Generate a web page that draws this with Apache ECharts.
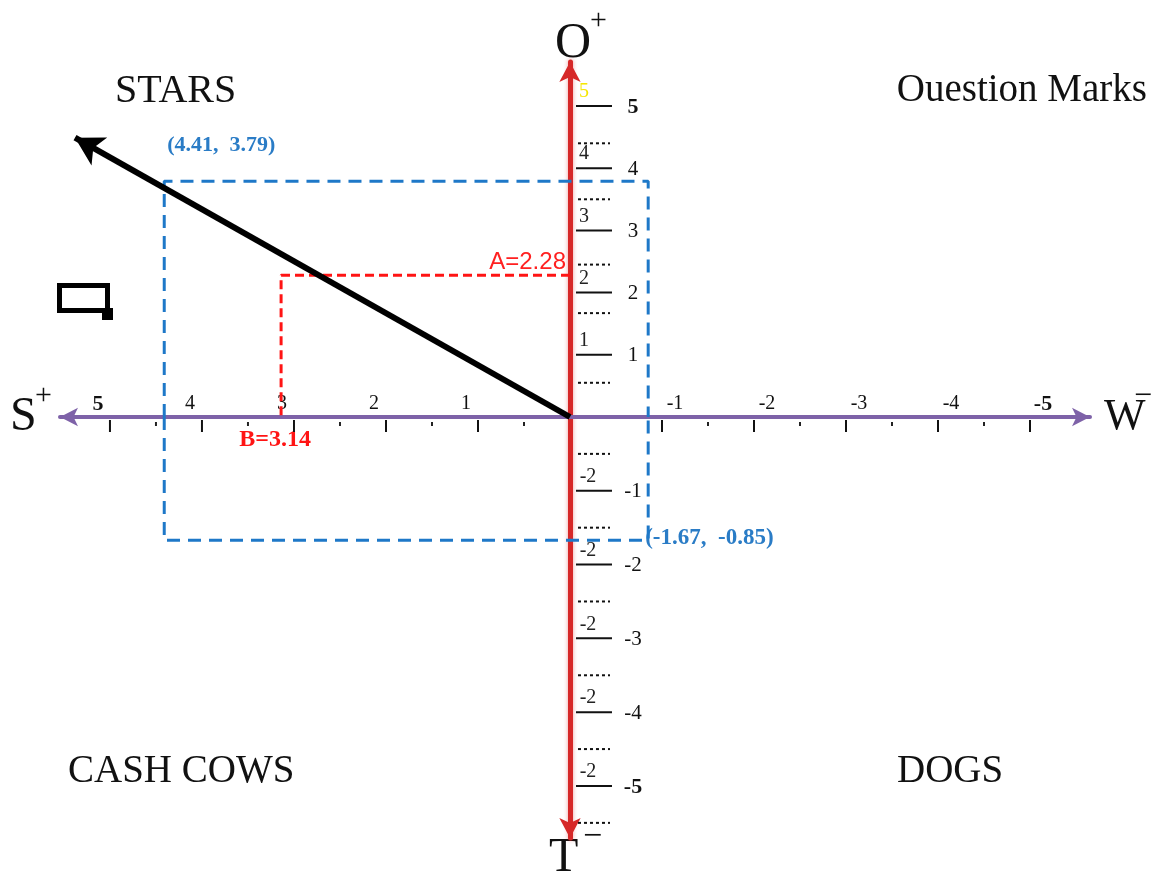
<!DOCTYPE html>
<html><head><meta charset="utf-8">
<script src="https://cdn.jsdelivr.net/npm/echarts@6/dist/echarts.min.js"></script>
<style>html,body{margin:0;padding:0;background:#fff}#c{width:1165px;height:877px}</style>
</head><body><div id="c"></div>
<script>
// ---- data ----
const xTicks = [5, 4, 3, 2, 1, -1, -2, -3, -4, -5];
const xMinorTicks = [4.5, 3.5, 2.5, 1.5, 0.5, -1.5, -2.5, -3.5, -4.5];
const xTickLabels = ['5', '4', '3', '2', '1', '-1', '-2', '-3', '-4', '-5'];
const yTicksUpper = [1, 2, 3, 4, 5];
const yTicksLower = [-1, -2, -3, -4, -5];
const yDotsUpper = [0.55, 1.67, 2.45, 3.5, 4.4];
const yDotsLower = [-0.5, -1.5, -2.5, -3.5, -4.5, -5.5];
const yLabelsUpper = ['1', '2', '3', '4', '5'];
const yLabelsLower = ['-1', '-2', '-3', '-4', '-5'];
const yInnerLabelsUpper = ['1', '2', '3', '4', '5'];
const yInnerLabelsLower = ['-2', '-2', '-2', '-2', '-2'];
const vectorEnd = [5.38, 4.49];
const boxUpperLeft = [4.41, 3.79];
const boxLowerRight = [-0.85, -1.67];
const boxLabels = ['(4.41,  3.79)', '(-1.67,  -0.85)'];
const valueA = 2.28;
const valueB = 3.14;
const labelA = 'A=2.28';
const labelB = 'B=3.14';
const quadrantNames = ['STARS', 'Ouestion Marks', 'CASH COWS', 'DOGS'];

const SERIF = "'Liberation Serif','Times New Roman',serif";
const SANS = "'Liberation Sans',Arial,sans-serif";

function lineSeries(yIdx, pts, style, extra) {
  return Object.assign({
    type: 'custom', xAxisIndex: 0, yAxisIndex: yIdx, silent: true, animation: false,
    data: pts,
    renderItem: (params, api) => {
      const c = api.coord([api.value(0), api.value(1)]);
      return style(c, params.dataIndex);
    }
  }, extra || {});
}
function textEl(x, y, text, o) {
  return {
    type: 'text', x: x, y: y,
    style: {
      text: text, fill: o.fill || '#111', fontSize: o.size || 20, fontFamily: o.family || SERIF,
      fontWeight: o.weight || 'normal', textAlign: o.align || 'center', align: o.align || 'center',
      textVerticalAlign: 'middle', verticalAlign: 'middle'
    }
  };
}

const series = [];

// box (blue dashed) — upper half on yAxis 0, lower half on yAxis 1
const boxStyle = { color: '#1E78C8', width: 3, type: [13, 8] };
series.push({
  type: 'line', yAxisIndex: 0, symbol: 'none', silent: true, animation: false, z: 2,
  lineStyle: boxStyle,
  data: [[boxUpperLeft[0], 0], [boxUpperLeft[0], boxUpperLeft[1]], [boxLowerRight[0], boxUpperLeft[1]], [boxLowerRight[0], 0]]
});
series.push({
  type: 'line', yAxisIndex: 1, symbol: 'none', silent: true, animation: false, z: 2,
  lineStyle: boxStyle,
  data: [[boxUpperLeft[0], 0], [boxUpperLeft[0], boxLowerRight[1]], [boxLowerRight[0], boxLowerRight[1]], [boxLowerRight[0], 0]]
});
series.push(lineSeries(0, [boxUpperLeft], (c) => textEl(c[0] + 3, c[1] - 36, boxLabels[0], { fill: '#2A7CC6', weight: 'bold', size: 22, align: 'left' })));
series.push(lineSeries(1, [boxLowerRight], (c) => textEl(c[0] - 3, c[1] - 2, boxLabels[1], { fill: '#2A7CC6', weight: 'bold', size: 23, align: 'left' })));

// red dashed A/B
series.push({
  type: 'line', yAxisIndex: 0, symbol: 'none', silent: true, animation: false, z: 3,
  lineStyle: { color: '#FF1414', width: 3, type: [9, 5] },
  data: [[0, valueA], [valueB, valueA], [valueB, 0]]
});
series.push(lineSeries(0, [[0, valueA]], (c) => textEl(c[0] - 4, c[1] - 13, labelA, { fill: '#FF2020', size: 24, family: SANS, align: 'right' })));
series.push(lineSeries(0, [[valueB, 0]], (c) => textEl(c[0] - 6, c[1] + 23, labelB, { fill: '#FF1414', size: 24, weight: 'bold' })));

// black vector
series.push({
  type: 'line', yAxisIndex: 0, data: [], silent: true, animation: false, z: 4,
  markLine: {
    silent: true, animation: false, symbol: ['none', 'arrow'], symbolSize: [24, 28],
    label: { show: false },
    lineStyle: { color: '#000', width: 6, type: 'solid' },
    data: [[{ coord: [0, 0] }, { coord: vectorEnd }]]
  }
});

// horizontal ticks
series.push(lineSeries(0, xTicks.map(v => [v, 0]), (c) => ({ type: 'line', shape: { x1: c[0], y1: c[1] + 3, x2: c[0], y2: c[1] + 15 }, style: { stroke: '#111', lineWidth: 2 } })));
series.push(lineSeries(0, xMinorTicks.map(v => [v, 0]), (c) => ({ type: 'line', shape: { x1: c[0], y1: c[1] + 5, x2: c[0], y2: c[1] + 9 }, style: { stroke: '#222', lineWidth: 2 } })));
series.push(lineSeries(0, xTicks.map(v => [v, 0]), (c, i) => {
  const v = xTicks[i];
  const bold = Math.abs(v) === 5;
  return textEl(c[0] + (v > 0 ? -12 : 13), c[1] - 13, xTickLabels[i], { size: bold ? 22 : 20, weight: bold ? 'bold' : 'normal' });
}));

// vertical ticks, dotted minor lines, labels
const tickStyle = (c) => ({ type: 'line', shape: { x1: c[0] + 6, y1: c[1], x2: c[0] + 42, y2: c[1] }, style: { stroke: '#111', lineWidth: 2 } });
const dotStyle = (c) => ({ type: 'line', shape: { x1: c[0] + 8, y1: c[1], x2: c[0] + 40, y2: c[1] }, style: { stroke: '#111', lineWidth: 2, lineDash: [3, 3] } });
series.push(lineSeries(0, yTicksUpper.map(v => [0, v]), tickStyle));
series.push(lineSeries(1, yTicksLower.map(v => [0, v]), tickStyle));
series.push(lineSeries(0, yDotsUpper.map(v => [0, v]), dotStyle));
series.push(lineSeries(1, yDotsLower.map(v => [0, v]), dotStyle));
series.push(lineSeries(0, yTicksUpper.map(v => [0, v]), (c, i) => {
  const bold = yTicksUpper[i] === 5;
  return textEl(c[0] + 63, c[1] + 1, yLabelsUpper[i], { size: bold ? 22 : 21, weight: bold ? 'bold' : 'normal' });
}));
series.push(lineSeries(1, yTicksLower.map(v => [0, v]), (c, i) => {
  const bold = yTicksLower[i] === -5;
  return textEl(c[0] + 63, c[1] + 1, yLabelsLower[i], { size: bold ? 22 : 21, weight: bold ? 'bold' : 'normal' });
}));
series.push(lineSeries(0, yTicksUpper.map(v => [0, v]), (c, i) => {
  const top = yTicksUpper[i] === 5;
  return textEl(c[0] + 14, c[1] - 14, yInnerLabelsUpper[i], { size: 20, fill: top ? '#F5E600' : '#222' });
}));
series.push(lineSeries(1, yTicksLower.map(v => [0, v]), (c, i) => textEl(c[0] + 18, c[1] - 14, yInnerLabelsLower[i], { size: 20, fill: '#222' })));

const option = {
  backgroundColor: '#fff',
  animation: false,
  grid: { left: 60, right: 75, top: 62, bottom: 39, containLabel: false },
  xAxis: {
    type: 'value', min: -5.652, max: 5.543, inverse: true,
    axisLine: { show: true, onZero: true, symbol: ['arrow', 'arrow'], symbolSize: [14, 18], lineStyle: { color: '#7E62A8', width: 4 } },
    axisTick: { show: false }, axisLabel: { show: false }, splitLine: { show: false }
  },
  yAxis: [{
    type: 'value', min: -6.768, max: 5.707,
    axisLine: { show: true, onZero: true, symbol: ['arrow', 'arrow'], symbolSize: [16, 20], lineStyle: { color: '#D62828', width: 5, shadowColor: 'rgba(210,40,40,0.45)', shadowBlur: 4 } },
    axisTick: { show: false }, axisLabel: { show: false }, splitLine: { show: false }
  }, {
    type: 'value', min: -5.705, max: 4.810, show: false,
    axisLine: { show: false }, axisTick: { show: false }, axisLabel: { show: false }, splitLine: { show: false }
  }],
  graphic: [
    { type: 'text', left: 115, top: 71, style: { text: quadrantNames[0], fontSize: 40, fontFamily: SERIF, fill: '#111' } },
    { type: 'text', right: 18, top: 71, style: { text: quadrantNames[1], fontSize: 39, fontFamily: SERIF, fill: '#111' } },
    { type: 'text', left: 68, top: 752, style: { text: quadrantNames[2], fontSize: 39, fontFamily: SERIF, fill: '#111' } },
    { type: 'text', left: 897, top: 752, style: { text: quadrantNames[3], fontSize: 39, fontFamily: SERIF, fill: '#111' } },
    { type: 'text', left: 555, top: 19, style: { text: 'O', fontSize: 50, fontFamily: SERIF, fill: '#111' } },
    { type: 'text', left: 590, top: 6, style: { text: '+', fontSize: 30, fontFamily: SERIF, fill: '#111' } },
    { type: 'text', left: 549, top: 834, style: { text: 'T', fontSize: 48, fontFamily: SERIF, fill: '#111' } },
    { type: 'text', left: 583, top: 820, style: { text: '\u2212', fontSize: 34, fontFamily: SERIF, fill: '#111' } },
    { type: 'text', left: 10, top: 393, style: { text: 'S', fontSize: 48, fontFamily: SERIF, fill: '#111' } },
    { type: 'text', left: 35, top: 381, style: { text: '+', fontSize: 30, fontFamily: SERIF, fill: '#111' } },
    { type: 'text', left: 1104, top: 395, style: { text: 'W', fontSize: 44, fontFamily: SERIF, fill: '#111' } },
    { type: 'text', left: 1134, top: 381, style: { text: '\u2212', fontSize: 32, fontFamily: SERIF, fill: '#111' } },
    { type: 'rect', shape: { x: 59.5, y: 285.5, width: 48, height: 25 }, style: { fill: 'none', stroke: '#000', lineWidth: 5 } },
    { type: 'rect', shape: { x: 102, y: 308, width: 11, height: 12 }, style: { fill: '#000' } }
  ],
  series: series
};
const chart = echarts.init(document.getElementById('c'));
chart.setOption(option);
</script></body></html>
